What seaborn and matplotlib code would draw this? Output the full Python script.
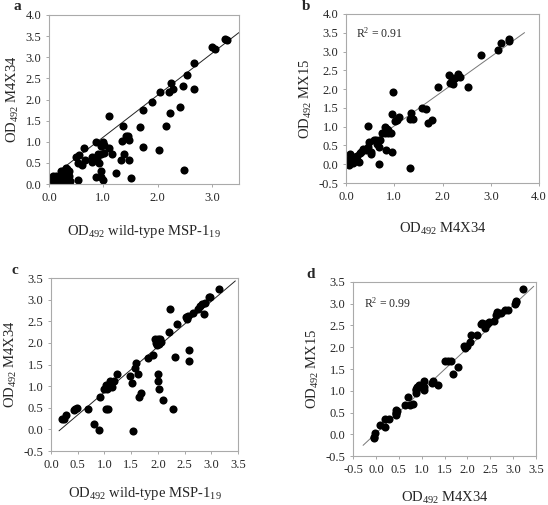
import numpy as np
import pandas as pd
import matplotlib
matplotlib.use("Agg")
import matplotlib.pyplot as plt
import seaborn as sns

sns.set_style("white")
plt.rcParams['font.family'] = ['Liberation Serif', 'DejaVu Serif']
plt.rcParams['mathtext.default'] = 'regular'

# panel a: wild-type vs M4X34
a_x = [3.24, 3.28, 3.01, 3.05, 2.67, 2.55, 2.24, 2.28, 2.21, 2.05, 2.47, 2.68, 1.90, 1.73,
       2.42, 2.23, 1.10, 1.67, 2.16, 1.37, 1.42, 1.46, 1.47, 1.35, 1.73, 2.02, 1.38, 1.32,
       1.48, 1.23, 1.51, 2.48, 0.87, 1.00, 0.95, 1.02, 1.10, 1.02, 0.96, 1.16, 0.90, 0.89,
       0.79, 0.80, 0.93, 0.95, 0.95, 0.87, 1.00, 0.65, 0.56, 0.50, 0.67, 0.53, 0.61, 0.54,
       0.13, 0.12, 0.19, 0.25, 0.25, 0.31, 0.34, 0.36, 0.38, 0.28, 0.22, 0.18, 0.06, 0.07,
       0.31, 0.34, 0.18, 0.37, 0.31, 0.23, 0.10, 0.27, 0.15, 0.33]
a_y = [3.43, 3.42, 3.24, 3.19, 2.86, 2.57, 2.40, 2.25, 2.17, 2.17, 2.33, 2.24, 1.94, 1.74,
       1.83, 1.67, 1.61, 1.35, 1.37, 1.37, 1.13, 1.14, 1.05, 1.01, 0.87, 0.80, 0.72, 0.57,
       0.57, 0.25, 0.14, 0.33, 0.99, 0.99, 0.91, 0.92, 0.85, 0.73, 0.72, 0.72, 0.72, 0.61,
       0.65, 0.51, 0.50, 0.32, 0.17, 0.16, 0.09, 0.86, 0.69, 0.65, 0.57, 0.50, 0.45, 0.10,
       0.18, 0.06, 0.10, 0.20, 0.30, 0.26, 0.35, 0.18, 0.06, 0.04, 0.06, 0.05, 0.10, 0.18,
       0.02, 0.10, 0.17, 0.30, 0.38, 0.32, 0.12, 0.12, 0.08, 0.24]

# panel b: M4X34 vs MX15
b_x = [3.38, 3.38, 3.21, 3.14, 2.80, 2.32, 2.14, 2.19, 2.26, 2.36, 2.21, 2.15, 1.90, 2.52,
       0.98, 1.58, 1.65, 1.34, 1.32, 1.38, 1.79, 1.70, 0.96, 1.05, 1.10, 1.02, 0.45, 0.80,
       0.84, 0.88, 0.74, 0.81, 0.94, 0.87, 0.83, 0.95, 1.33, 0.69, 0.69, 0.48, 0.57, 0.63,
       0.70, 0.65, 0.46, 0.51, 0.52, 0.41, 0.36, 0.31, 0.28, 0.23, 0.19, 0.27, 0.15, 0.10,
       0.06, 0.08, 0.12, 0.04, 0.01, 0.15, 0.19, 0.22, 0.00, 0.06]
b_y = [3.33, 3.27, 3.23, 3.05, 2.90, 2.40, 2.38, 2.29, 2.29, 2.33, 2.14, 2.16, 2.05, 2.05,
       1.93, 1.49, 1.46, 1.37, 1.20, 1.20, 1.19, 1.10, 1.35, 1.19, 1.27, 1.16, 1.03, 1.00,
       0.94, 0.90, 0.82, 0.82, 0.82, 0.82, 0.37, 0.33, -0.10, 0.01, 0.45, 0.60, 0.64, 0.64,
       0.64, 0.54, 0.46, 0.33, 0.26, 0.37, 0.40, 0.33, 0.29, 0.22, 0.18, 0.05, 0.14, 0.11,
       0.04, 0.27, 0.20, 0.12, 0.02, 0.04, 0.11, 0.11, 0.12, -0.03]

# panel c: wild-type vs M4X34
c_x = [3.14, 2.96, 2.97, 2.88, 2.83, 2.79, 2.76, 2.87, 2.65, 2.56, 2.54, 2.53, 2.23, 2.36,
       2.20, 1.95, 2.00, 2.04, 2.06, 1.97, 2.02, 1.98, 2.59, 2.59, 2.33, 1.90, 1.81, 1.60,
       1.58, 1.62, 1.48, 1.51, 2.01, 2.00, 2.03, 2.09, 2.29, 1.69, 1.64, 1.54, 1.24, 1.17,
       1.11, 1.15, 1.09, 1.03, 1.00, 1.04, 0.92, 1.03, 1.06, 0.70, 0.81, 0.90, 0.45, 0.49,
       0.43, 0.28, 0.21, 0.25]
c_y = [3.25, 3.07, 3.05, 2.93, 2.90, 2.86, 2.78, 2.66, 2.69, 2.63, 2.56, 2.59, 2.79, 2.43,
       2.25, 2.10, 2.10, 2.08, 2.01, 1.99, 1.97, 1.94, 1.84, 1.58, 1.68, 1.72, 1.66, 1.54,
       1.41, 1.28, 1.24, 1.07, 1.27, 1.13, 0.93, 0.67, 0.46, 0.84, 0.76, -0.04, 1.28, 1.11,
       1.11, 0.99, 0.97, 1.03, 0.93, 0.93, 0.76, 0.48, 0.48, 0.48, 0.12, -0.02, 0.48, 0.49,
       0.45, 0.33, 0.25, 0.24]

# panel d: M4X34 vs MX15
d_x = [3.22, 3.06, 3.07, 3.04, 2.89, 2.82, 2.74, 2.64, 2.63, 2.58, 2.48, 2.43, 2.38, 2.33,
       2.30, 2.39, 2.22, 2.07, 2.06, 1.99, 1.92, 1.94, 1.65, 1.50, 1.57, 1.79, 1.68, 1.36,
       1.24, 1.22, 1.06, 1.06, 1.06, 1.01, 0.95, 0.90, 0.88, 0.88, 0.88, 0.71, 0.81, 0.74,
       0.64, 0.45, 0.45, 0.45, 0.43, 0.46, 0.28, 0.19, 0.10, 0.19, -0.03, -0.04, -0.05]
d_y = [3.34, 3.06, 3.03, 3.00, 2.86, 2.85, 2.79, 2.81, 2.73, 2.60, 2.58, 2.53, 2.53, 2.56,
       2.53, 2.44, 2.28, 2.28, 2.12, 2.02, 2.04, 1.99, 1.69, 1.69, 1.68, 1.54, 1.39, 1.13,
       1.23, 1.17, 1.23, 1.01, 1.09, 1.09, 1.13, 1.09, 1.04, 1.01, 0.94, 0.85, 0.69, 0.68,
       0.68, 0.56, 0.50, 0.44, 0.48, 0.53, 0.35, 0.34, 0.21, 0.16, 0.02, -0.06, -0.09]

# trend lines: slope, intercept, x range
a_line = (0.99, 0.12, 0.18, 3.5)
b_line = (0.92, 0.10, 0.0, 3.7)
c_line = (1.05, -0.19, 0.15, 3.45)
d_line = (0.98, 0.02, -0.28, 3.45)

fig = plt.figure(figsize=(5.48, 5.05), dpi=100)

panels = [
    dict(rect=[0.0894, 0.6356, 0.3467, 0.3347], x=a_x, y=a_y, line=a_line, lc='#222222',
         xlim=(0, 3.5), ylim=(0, 4.0), xt=[0, 1, 2, 3], yt=np.arange(0, 4.01, 0.5),
         xlab='OD$_{492}$ wild-type MSP-1$_{19}$', ylab='OD$_{492}$ M4X34', letter='a',
         lpos=(13, 7), r2=None, xpad=14),
    dict(rect=[0.6314, 0.6376, 0.3522, 0.3347], x=b_x, y=b_y, line=b_line, lc='#777777',
         xlim=(0, 4.0), ylim=(-0.5, 4.0), xt=[0, 1, 2, 3, 4], yt=np.arange(-0.5, 4.01, 0.5),
         xlab='OD$_{492}$ M4X34', ylab='OD$_{492}$ MX15', letter='b',
         lpos=(302, 7), r2=('R$^{2}$ = 0.91', 0.21, 3.49), xpad=13),
    dict(rect=[0.0931, 0.1069, 0.3412, 0.3426], x=c_x, y=c_y, line=c_line, lc='#222222',
         xlim=(0, 3.5), ylim=(-0.5, 3.5), xt=np.arange(0, 3.51, 0.5), yt=np.arange(-0.5, 3.51, 0.5),
         xlab='OD$_{492}$ wild-type MSP-1$_{19}$', ylab='OD$_{492}$ M4X34', letter='c',
         lpos=(11, 270), r2=None, xpad=10),
    dict(rect=[0.6442, 0.0970, 0.3339, 0.3446], x=d_x, y=d_y, line=d_line, lc='#777777',
         xlim=(-0.5, 3.5), ylim=(-0.5, 3.5), xt=np.arange(-0.5, 3.51, 0.5), yt=np.arange(-0.5, 3.51, 0.5),
         xlab='OD$_{492}$ M4X34', ylab='OD$_{492}$ MX15', letter='d',
         lpos=(306, 275), r2=('R$^{2}$ = 0.99', -0.25, 3.0), xpad=10),
]

for p in panels:
    ax = fig.add_axes(p['rect'])
    df = pd.DataFrame({'x': p['x'], 'y': p['y']})
    slope, icpt, x0, x1 = p['line']
    xs = np.array([x0, x1])
    ax.plot(xs, slope * xs + icpt, color=p['lc'], lw=0.7, zorder=1)
    sns.scatterplot(data=df, x='x', y='y', ax=ax, color='black', s=34,
                    edgecolor='black', linewidth=0, zorder=2)
    ax.set_xlim(*p['xlim'])
    ax.set_ylim(*p['ylim'])
    ax.set_xticks(p['xt'])
    ax.set_yticks(p['yt'])
    ax.set_xticklabels([f'{v:.1f}' for v in p['xt']])
    ax.set_yticklabels([f'{v:.1f}' for v in p['yt']])
    ax.tick_params(labelsize=9, length=2.5, width=0.6, color='#999999', pad=3,
                   direction='out', bottom=True, left=True)
    for s in ax.spines.values():
        s.set_color('#aaaaaa')
        s.set_linewidth(0.8)
    ax.set_xlabel(p['xlab'], fontsize=10.5, labelpad=p['xpad'])
    ax.set_ylabel(p['ylab'], fontsize=10.5, labelpad=3)
    if p['r2'] is not None:
        txt, tx, ty = p['r2']
        ax.text(tx, ty, txt, fontsize=8.5, va='center', ha='left')
    lx, ly = p['lpos']
    fig.text(lx / 548, 1 - ly / 505, p['letter'], fontsize=11, fontweight='bold',
             ha='left', va='center')

fig.savefig('out.png', dpi=100)
